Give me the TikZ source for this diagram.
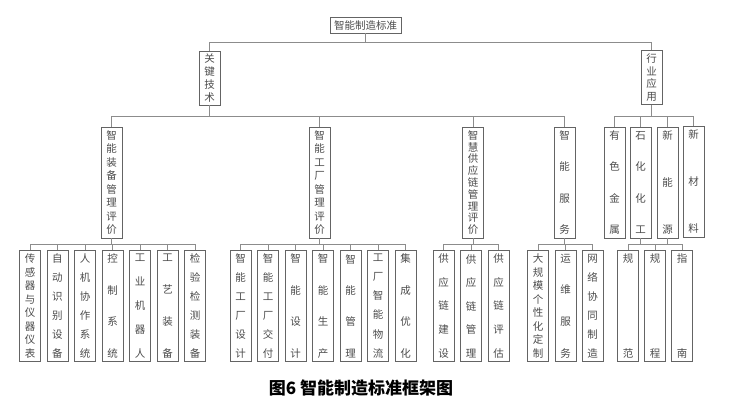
\documentclass[tikz,border=0pt]{standalone}
\usepackage{fontspec}
\newfontfamily\cjk{Noto Sans CJK SC}
\usepackage{tikz}
\usetikzlibrary{calc}
\definecolor{boxgray}{RGB}{100,100,100}
\definecolor{linegray}{RGB}{140,140,140}
\definecolor{txtgray}{RGB}{75,75,75}

% vertical text, characters spread from top to bottom
\newcommand{\vtxt}[2]{\parbox[c][#1][s]{1.2em}{\centering
  \foreach[count=\i] \c in {#2}{\ifnum\i>1 \vfill\fi\c\par}}}
\newcommand{\vshort}[1]{\vtxt{47pt}{#1}}
\newcommand{\vlong}[1]{\vtxt{103pt}{#1}}

\begin{document}
\begin{tikzpicture}[x=1pt, y=-1pt,
  every node/.style={font=\cjk\fontsize{10.5}{10.5}\selectfont, text=txtgray},
  vbox/.style={draw=boxgray, line width=0.7pt, minimum width=21pt, inner sep=0pt},
  topbox/.style={vbox, minimum height=54pt},
  tallbox/.style={vbox, minimum height=111pt},
  conn/.style={draw=linegray, line width=0.8pt},
]
\useasboundingbox (0,0) rectangle (729,410);

% Root
\node[draw=boxgray, line width=0.7pt, minimum width=71pt, minimum height=16pt, inner sep=1pt] (std) at (365.5,25) {智能制造标准};

% Level 1
\node[topbox] (gjjs) at (209.5,78) {\vshort{关,键,技,术}};
\node[topbox] (hyyy) at (651.5,77.5) {\vshort{行,业,应,用}};

% Level 2
\node[tallbox] (zbgl) at (111.5,182.5) {\vlong{智,能,装,备,管,理,评,价}};
\node[tallbox] (gcgl) at (319.5,182.5) {\vlong{智,能,工,厂,管,理,评,价}};
\node[tallbox] (gylgl) at (473,182.5) {\vlong{智,慧,供,应,链,管,理,评,价}};
\node[tallbox] (znfw) at (564.5,182.5) {\vlong{智,能,服,务}};
\node[tallbox] (ysjs) at (614.5,182.5) {\vlong{有,色,金,属}};
\node[tallbox] (shhg) at (640.5,182.5) {\vlong{石,化,化,工}};
\node[tallbox] (xny) at (667.5,182.5) {\vlong{新,能,源}};
\node[tallbox] (xcl) at (693.5,181.5) {\vlong{新,材,料}};

% Level 3: equipment
\node[tallbox] (zb1) at (30,306) {\vlong{传,感,器,与,仪,器,仪,表}};
\node[tallbox] (zb2) at (57.5,306) {\vlong{自,动,识,别,设,备}};
\node[tallbox] (zb3) at (85,306) {\vlong{人,机,协,作,系,统}};
\node[tallbox] (zb4) at (112.5,306) {\vlong{控,制,系,统}};
\node[tallbox] (zb5) at (140,306) {\vlong{工,业,机,器,人}};
\node[tallbox] (zb6) at (167.5,306) {\vlong{工,艺,装,备}};
\node[tallbox] (zb7) at (195,306) {\vlong{检,验,检,测,装,备}};

% Level 3: factory
\node[tallbox] (gc1) at (240.5,306) {\vlong{智,能,工,厂,设,计}};
\node[tallbox] (gc2) at (268,306) {\vlong{智,能,工,厂,交,付}};
\node[tallbox] (gc3) at (295.5,306) {\vlong{智,能,设,计}};
\node[tallbox] (gc4) at (323,306) {\vlong{智,能,生,产}};
\node[tallbox] (gc5) at (350.5,306) {\vlong{智,能,管,理}};
\node[tallbox] (gc6) at (378,306) {\vlong{工,厂,智,能,物,流}};
\node[tallbox] (gc7) at (405.5,306) {\vlong{集,成,优,化}};

% Level 3: supply chain
\node[tallbox] (gy1) at (443.5,306) {\vlong{供,应,链,建,设}};
\node[tallbox] (gy2) at (471,306) {\vlong{供,应,链,管,理}};
\node[tallbox] (gy3) at (498.5,306) {\vlong{供,应,链,评,估}};

% Level 3: services
\node[tallbox] (fw1) at (538,306) {\vlong{大,规,模,个,性,化,定,制}};
\node[tallbox] (fw2) at (565.5,306) {\vlong{运,维,服,务}};
\node[tallbox] (fw3) at (592.5,306) {\vlong{网,络,协,同,制,造}};

% Level 3: industry
\node[tallbox] (gf1) at (628,306) {\vlong{规,范}};
\node[tallbox] (gf2) at (655,306) {\vlong{规,程}};
\node[tallbox] (gf3) at (682,306) {\vlong{指,南}};

% Connectors
\coordinate (b0) at (std.south |- 0,42);
\draw[conn] (std.south) -- (b0);
\draw[conn] (b0) -| (gjjs.north);
\draw[conn] (b0) -| (hyyy.north);

\coordinate (b1) at (gjjs.south |- 0,116);
\draw[conn] (gjjs.south) -- (b1);
\foreach \n in {zbgl,gcgl,gylgl,znfw} \draw[conn] (b1) -| (\n.north);

\coordinate (b2) at (hyyy.south |- 0,116);
\draw[conn] (hyyy.south) -- (b2);
\foreach \n in {ysjs,shhg,xny,xcl} \draw[conn] (b2) -| (\n.north);

\coordinate (b3) at (zbgl.south |- 0,244);
\draw[conn] (zbgl.south) -- (b3);
\foreach \n in {zb1,zb2,zb3,zb4,zb5,zb6,zb7} \draw[conn] (b3) -| (\n.north);

\coordinate (b4) at (gcgl.south |- 0,244);
\draw[conn] (gcgl.south) -- (b4);
\foreach \n in {gc1,gc2,gc3,gc4,gc5,gc6,gc7} \draw[conn] (b4) -| (\n.north);

\coordinate (b5) at (gylgl.south |- 0,244);
\draw[conn] (gylgl.south) -- (b5);
\foreach \n in {gy1,gy2,gy3} \draw[conn] (b5) -| (\n.north);

\coordinate (b6) at (znfw.south |- 0,244);
\draw[conn] (znfw.south) -- (b6);
\foreach \n in {fw1,fw2,fw3} \draw[conn] (b6) -| (\n.north);

\coordinate (b7) at (shhg.south |- 0,244);
\draw[conn] (shhg.south) -- (b7);
\draw[conn] (xny.south) -- (xny.south |- b7);
\foreach \n in {gf1,gf2,gf3} \draw[conn] (b7) -| (\n.north);

% Caption
\node[font=\cjk\bfseries\fontsize{17}{17}\selectfont, text=black] (cap) at (361,388) {图6 智能制造标准框架图};

\end{tikzpicture}
\end{document}
